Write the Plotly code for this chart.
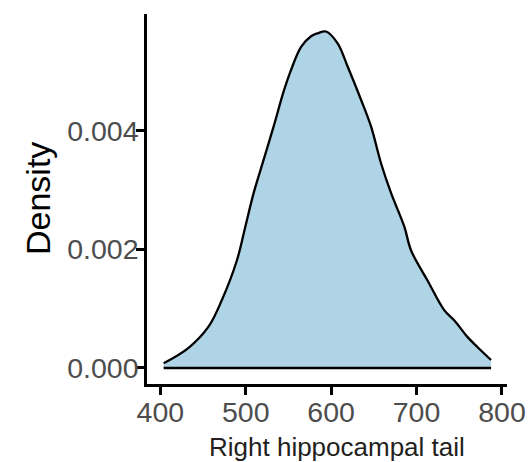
import plotly.graph_objects as go

# Data
x_vals = [403.9, 433.1, 456.6, 472.2, 489.8, 499.5, 509.3, 521.0, 532.7, 544.4,
          553.0, 564.8, 576.5, 584.2, 594.0, 607.6, 619.3, 635.0, 646.7, 658.4,
          670.1, 685.7, 693.6, 713.0, 732.6, 744.3, 759.8, 771.5, 787.2]
density = [0.00008, 0.00034, 0.00070, 0.00115, 0.00182, 0.00238, 0.00295, 0.00351, 0.00407, 0.00466,
           0.00502, 0.00541, 0.00559, 0.00564, 0.00567, 0.00547, 0.00508, 0.00452, 0.00407, 0.00345,
           0.00295, 0.00238, 0.00198, 0.00147, 0.00097, 0.00080, 0.00052, 0.00035, 0.000135]
x_ticks = [400, 500, 600, 700, 800]
y_ticks = [0.000, 0.002, 0.004]
y_tick_labels = ["0.000", "0.002", "0.004"]
x_title = "Right hippocampal tail"
y_title = "Density"

FONT = "Liberation Sans, Arial, Helvetica, sans-serif"

fig = go.Figure()
fig.add_trace(go.Scatter(
    x=x_vals, y=density, mode="lines",
    line=dict(color="black", width=2.3, shape="spline", smoothing=1.0),
    fill="tozeroy", fillcolor="#AED4E6", hoverinfo="skip", showlegend=False,
))
fig.add_trace(go.Scatter(
    x=[x_vals[0], x_vals[-1]], y=[0, 0], mode="lines",
    line=dict(color="black", width=2.3), hoverinfo="skip", showlegend=False,
))

axis_common = dict(
    showline=True, linecolor="black", linewidth=2.5,
    ticks="outside", ticklen=8, tickwidth=2.5, tickcolor="black",
    showgrid=False, zeroline=False, automargin=False,
    tickfont=dict(family=FONT, size=28.5, color="#4D4D4D"),
)

fig.update_layout(
    width=528, height=462,
    margin=dict(l=147, r=21, t=14, b=78, autoexpand=False),
    paper_bgcolor="white", plot_bgcolor="white",
    xaxis=dict(range=[384.4, 805.9], tickvals=x_ticks, ticklabelstandoff=-7, **axis_common),
    yaxis=dict(range=[-0.00027, 0.005965], tickvals=y_ticks, ticktext=y_tick_labels,
               ticklabelstandoff=-8, **axis_common),
    annotations=[
        dict(text=x_title, x=0.5, y=0, xref="paper", yref="paper",
             xanchor="center", yanchor="top", xshift=10, yshift=-46,
             showarrow=False, font=dict(family=FONT, size=26, color="#231F20")),
        dict(text=y_title, x=0, y=0.5, xref="paper", yref="paper",
             xanchor="center", yanchor="middle", xshift=-109, textangle=-90,
             showarrow=False, font=dict(family=FONT, size=34, color="black")),
    ],
)

fig.write_html("out.html")
